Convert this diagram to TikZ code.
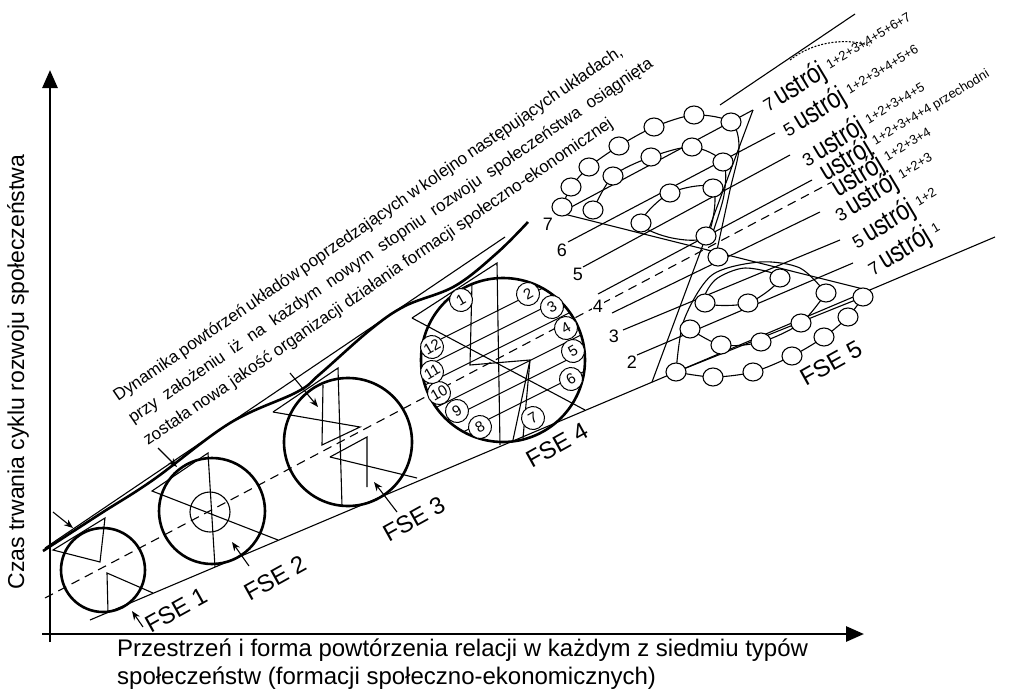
\documentclass[tikz,border=0pt]{standalone}
\usepackage{fontspec}
\setmainfont{Liberation Sans}
\usetikzlibrary{arrows.meta}
\newcommand{\fsz}[1]{\fontsize{#1pt}{#1pt}\selectfont}
\newcommand{\ustword}{\scalebox{0.82}[1]{\fsz{28}ustrój}}
\newcommand{\ustrow}[2]{{\fsz{18}#1}\hspace{4pt}\ustword\hspace{5pt}\raisebox{6pt}{\fsz{13}#2}}
\begin{document}
\begin{tikzpicture}[x=1pt,y=-1pt,
  thin/.style={line width=1.1pt},
  thickc/.style={line width=2.6pt},
  axis/.style={line width=2.8pt,-{Triangle[length=18pt,width=15pt]}},
  dsh/.style={line width=1.1pt,dash pattern=on 9pt off 6pt},
  arr/.style={line width=1.1pt,-{Stealth[length=9pt,width=7pt]}},
  fse/.style={circle,draw,line width=2.6pt,inner sep=0pt},
  numc/.style={circle,draw,line width=1pt,fill=white,minimum size=23pt,inner sep=0pt,font=\fsz{15},rotate=30},
  fsel/.style={font=\fsz{24},rotate=29},
  lnum/.style={font=\fsz{18}},
  ulab/.style={rotate=31,anchor=base west,inner sep=0pt},
  dtext/.style={rotate=34.5,anchor=base west,inner sep=0pt,font=\fsz{17}}
]
\useasboundingbox (0,0) rectangle (1021,691);

% axes
\coordinate (o1) at (50,642);
\coordinate (ytop) at (50,70);
\coordinate (o2) at (42,634);
\coordinate (xend) at (864,634);
\draw[axis] (o1) -- (ytop);
\draw[axis] (o2) -- (xend);
\node[rotate=90,font=\fsz{23}] (ylab) at (18,372) {Czas trwania cyklu rozwoju społeczeństwa};
\node[anchor=north west,align=left,font=\fontsize{24pt}{28pt}\selectfont,inner sep=0pt] (xlab) at (117,639)
  {Przestrzeń i forma powtórzenia relacji w każdym z siedmiu typów\\społeczeństw (formacji społeczno-ekonomicznych)};

% band lines
\coordinate (dA) at (45,598);
\coordinate (dB) at (832,182);
\draw[dsh] (dA) -- (dB);
\coordinate (lA) at (90,620);
\coordinate (lB) at (995,237);
\draw[thin] (lA) -- (lB);
\coordinate (uA) at (45,548);
\coordinate (uB) at (505,237);
\draw[thin] (uA) -- (uB);

% thick envelope curve
\draw[thickc] plot[smooth,tension=0.6] coordinates {(43,551) (100,514) (153,480) (230,423) (297,392) (320,374) (370,330) (405,306) (455,286) (497,253) (528,222)};

% FSE 1
\node[fse,minimum size=84pt] (fse1) at (103,570) {};
\draw[thin] (53,550) -- (105,518) -- (100,562) -- cycle;
\draw[thin] (108,612) -- (107,573) -- (153,593);
% FSE 2
\node[fse,minimum size=106pt] (fse2) at (212,511) {};
\node[circle,draw,thin,minimum size=40pt,inner sep=0pt] (in2) at (210,512) {};
\draw[thin] (278,540) -- (152,491) -- (208,453) -- (215,567);
% FSE 3
\node[fse,minimum size=128pt] (fse3) at (348,442) {};
\draw[thin] (273,412) -- (338,368) -- (342,506);
\draw[thin] (273,412) -- (360,427) -- (322,445) -- (323,385);
\draw[thin] (330,457) -- (367,437) -- (367,487);
\draw[thin] (330,457) -- (417,478);
% FSE 4
\begin{scope}
  \clip (503,360) circle (82);
  \foreach \k in {-52,-32,-14,14,32,52}
    \draw[thin] (403,360+\k+50) -- (603,360+\k-50);
\end{scope}
\draw[thin] (412,318) -- (497,263) -- (500,445);
\draw[thin] (412,318) -- (585,410);
\draw[thin] (472,283) -- (470,365) -- (530,360) -- (513,440);
\draw[thin] (530,360) -- (523,438);
\node[fse,minimum size=164pt] (fse4) at (503,360) {};
\foreach \n/\x/\y in {1/461/300,2/528/294,3/552/307,4/566/328,5/573/351,6/571/379,7/533/418,8/480/427,9/457/411,10/439/393,11/432/372,12/432/347}
  \node[numc] (c\n) at (\x,\y) {\n};

% FSE 5 structure
\draw[thin] (560,213) -- (753,110);
\draw[thin] (560,213) -- (867,290);
\draw[thin] (753,110) -- (652,382);
\draw[thin] (720,105) -- (855,14);
\draw[thin,dash pattern=on 2pt off 1.5pt] (790,60) .. controls (815,40) and (850,38) .. (870,46);
\draw[thin] (568,242) -- (775,133);
\draw[thin] (583,267) -- (790,155);
\draw[thin] (598,294) -- (812,180);
\draw[thin] (612,313) -- (820,212);
\draw[thin] (623,330) -- (840,240);
\draw[thin] (637,355) -- (853,263);

\node[lnum] (n7) at (548,224) {7};
\node[lnum] (n6) at (562,250) {6};
\node[lnum] (n5) at (578,274) {5};
\node[lnum,fill=white,inner sep=1pt] (n4) at (598,306) {4};
\node[lnum] (n3) at (614,336) {3};
\node[lnum] (n2) at (632,362) {2};

% upper bowls
\draw[thin] plot[smooth] coordinates {(562,207) (571,187) (589,167) (619,146) (654,127) (694,115) (731,122) (739,148) (730,190) (717,250)};
\draw[thin] plot[smooth] coordinates {(593,210) (613,176) (651,157) (692,147) (723,162) (724,195) (712,235)};
\draw[thin] plot[smooth cycle] coordinates {(641,223) (670,193) (713,188) (707,236) (672,238)};
% lower bowls
\draw[thin] plot[smooth] coordinates {(676,372) (713,377) (753,372) (792,356) (824,337) (848,317) (863,297)};
\draw[thin] (676,372) -- (863,297);
\draw[thin] plot[smooth] coordinates {(676,372) (684,320) (712,275) (760,262) (800,268) (826,293)};
\draw[thin] plot[smooth] coordinates {(690,329) (721,345) (761,342) (801,323) (826,293)};
\draw[thin] plot[smooth cycle] coordinates {(705,303) (748,303) (780,278) (745,268) (715,280)};

\foreach \x/\y in {562/207,571/187,589/167,619/146,654/127,694/115,731/122,
                   593/210,613/176,651/157,692/147,723/162,
                   641/223,670/193,713/188,706/236,718/257,
                   705/303,748/303,780/278,
                   690/329,721/345,761/342,801/323,826/293,
                   676/372,713/377,753/372,792/356,824/337,848/317,863/297}
  \draw[thin,fill=white] (\x,\y) ellipse (10 and 9);

% right labels
\node[ulab] (r1) at (768,113) {\ustrow{7}{1+2+3+4+5+6+7}};
\node[ulab] (r2) at (788,138) {\ustrow{5}{1+2+3+4+5+6}};
\node[ulab] (r3) at (807,168) {\ustrow{3}{1+2+3+4+5}};
\node[ulab] (r4) at (826,182) {\ustword\hspace{5pt}\raisebox{6pt}{\fsz{13}1+2+3+4+4 przechodni}};
\node[ulab] (r5) at (838,198) {\ustword\hspace{5pt}\raisebox{6pt}{\fsz{13}1+2+3+4}};
\node[ulab] (r6) at (840,223) {\ustrow{3}{1+2+3}};
\node[ulab] (r7) at (857,250) {\ustrow{5}{1+2}};
\node[ulab] (r8) at (873,277) {\ustrow{7}{1}};

% FSE labels
\node[fsel] (f1) at (176,610) {FSE 1};
\node[fsel] (f2) at (275,578) {FSE 2};
\node[fsel] (f3) at (414,519) {FSE 3};
\node[fsel] (f4) at (557,445) {FSE 4};
\node[fsel] (f5) at (831,363) {FSE 5};

% arrows
\coordinate (a1s) at (143,627); \coordinate (a1e) at (132,611);
\coordinate (a2s) at (249,566); \coordinate (a2e) at (232,542);
\coordinate (a3s) at (397,512); \coordinate (a3e) at (374,482);
\coordinate (a4s) at (53,512);  \coordinate (a4e) at (73,528);
\coordinate (a5s) at (158,448); \coordinate (a5e) at (177,467);
\coordinate (a6s) at (290,373); \coordinate (a6e) at (318,407);
\foreach \i in {1,...,6} \draw[arr] (a\i s) -- (a\i e);

% description text
\node[dtext] (t1) at (118,402) {\makebox[606pt][s]{Dynamika powtórzeń układów poprzedzających w kolejno następujących układach,}};
\node[dtext] (t2) at (133,424) {\makebox[632pt][s]{przy założeniu iż na każdym nowym stopniu rozwoju społeczeństwa osiągnięta}};
\node[dtext] (t3) at (148,446) {została nowa jakość organizacji działania formacji społeczno-ekonomicznej};
\end{tikzpicture}
\end{document}
